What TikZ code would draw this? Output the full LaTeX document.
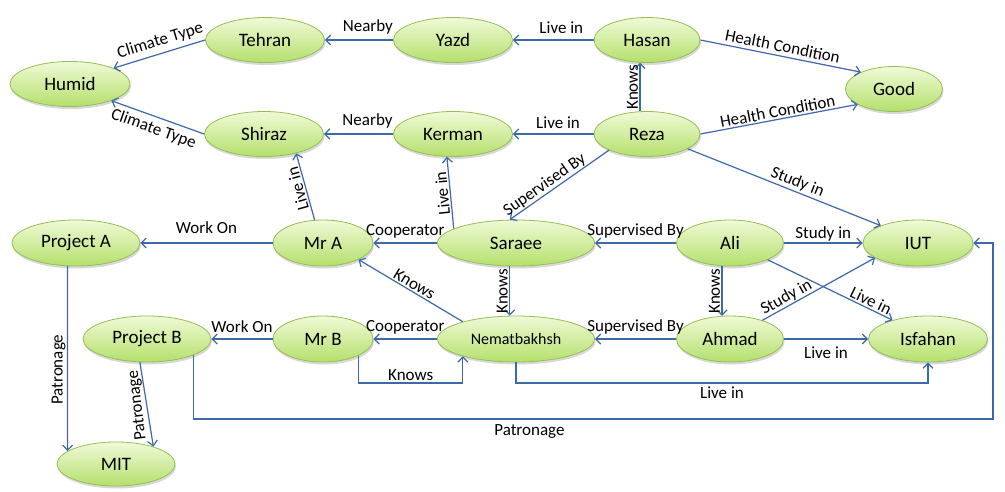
\documentclass[tikz,border=0pt]{standalone}
\usepackage{fontspec}
\setmainfont{Carlito}
\usetikzlibrary{shapes.geometric,arrows.meta,shadows,calc}
\definecolor{edgeblue}{RGB}{62,104,172}
\definecolor{ntop}{RGB}{240,250,215}
\definecolor{nbot}{RGB}{180,224,108}
\definecolor{nborder}{RGB}{150,190,85}
\begin{document}
\begin{tikzpicture}[x=1pt,y=-1pt,
  ent/.style={ellipse, draw=nborder, line width=0.8pt, top color=ntop, bottom color=nbot,
    inner sep=0pt, minimum height=45pt, font=\fontsize{19}{22}\selectfont,
    drop shadow={opacity=0.3, shadow xshift=1pt, shadow yshift=-2.5pt}},
  rel/.style={draw=edgeblue, line width=1.2pt, -{Straight Barb[length=5pt,width=10pt]}},
  lab/.style={font=\fontsize{17}{20}\selectfont, inner sep=1.5pt}]
\useasboundingbox (0,0) rectangle (1005,492);
\fill[white] (0,0) rectangle (1005,492);

% nodes
\node[ent, minimum width=120pt] (humid) at (70,84) {Humid};
\node[ent, minimum width=119pt] (tehran) at (265,40) {Tehran};
\node[ent, minimum width=119pt] (shiraz) at (264,134) {Shiraz};
\node[ent, minimum width=119pt] (yazd) at (453,40) {Yazd};
\node[ent, minimum width=119pt] (kerman) at (453,134) {Kerman};
\node[ent, minimum width=106pt] (hasan) at (647,40) {Hasan};
\node[ent, minimum width=106pt] (reza) at (647,134) {Reza};
\node[ent, minimum width=97pt] (good) at (894,89) {Good};
\node[ent, minimum width=128pt, minimum height=46pt] (proja) at (76,243) {Project A};
\node[ent, minimum width=100pt, minimum height=46pt] (mra) at (323,243) {Mr A};
\node[ent, minimum width=157pt, minimum height=46pt] (saraee) at (516,243) {Saraee};
\node[ent, minimum width=107pt, minimum height=46pt] (ali) at (730,243) {Ali};
\node[ent, minimum width=110pt, minimum height=46pt] (iut) at (918,243) {IUT};
\node[ent, minimum width=128pt, minimum height=46pt] (projb) at (147,339) {Project B};
\node[ent, minimum width=100pt, minimum height=46pt] (mrb) at (323,339) {Mr B};
\node[ent, minimum width=157pt, minimum height=46pt, font=\fontsize{16}{19}\selectfont] (nemat) at (516,339) {Nematbakhsh};
\node[ent, minimum width=107pt, minimum height=46pt] (ahmad) at (730,339) {Ahmad};
\node[ent, minimum width=119pt, minimum height=46pt] (isfahan) at (928,339) {Isfahan};
\node[ent, minimum width=118pt, minimum height=44pt] (mit) at (116,464) {MIT};

\coordinate (kb) at (0,383);
\coordinate (patY) at (0,419);
\coordinate (patX) at (993,0);

% edges
\draw[rel] (tehran.west) -- node[lab,sloped,above=3pt,pos=0.45]{Climate Type} (humid.20);
\draw[rel] (shiraz.west) -- node[lab,sloped,below=3pt]{Climate Type} (humid.-22);
\draw[rel] (yazd.west) -- node[lab,above=4pt,pos=0.37]{Nearby} (tehran.east);
\draw[rel] (kerman.west) -- node[lab,above=4pt,pos=0.37]{Nearby} (shiraz.east);
\draw[rel] (hasan.west) -- node[lab,above=4pt,pos=0.4]{Live in} (yazd.east);
\draw[rel] (reza.west) -- node[lab,above=3pt,pos=0.44]{Live in} (kerman.east);
\draw[rel] (hasan.east) -- node[lab,sloped,above=2pt]{Health Condition} (good.153);
\draw[rel] (reza.east) -- node[lab,sloped,above]{Health Condition} (good.203);
\draw[rel] (reza.107) -- node[lab,rotate=90,anchor=south]{Knows} (hasan.253);
\draw[rel] (reza.-20) -- node[lab,sloped,above,pos=0.55]{Study in} (iut.155);
\draw[rel] (reza.203) -- node[lab,sloped,above=-1pt,pos=0.6]{Supervised By} (saraee.105);
\draw[rel] (ali.west) -- node[lab,above=3pt]{Supervised By} (saraee.east);
\draw[rel] (ali.east) -- node[lab,above]{Study in} (iut.west);
\draw[rel] (saraee.west) -- node[lab,above=3pt]{Cooperator} (mra.east);
\draw[rel] (mra.west) -- node[lab,above=7pt]{Work On} (proja.east);
\draw[rel] (mra.110) -- node[lab,sloped,allow upside down,above]{Live in} (shiraz.-31);
\draw[rel] (saraee.167) -- node[lab,sloped,allow upside down,above]{Live in} (kerman.255);
\draw[rel] (saraee.255) -- node[lab,rotate=90,anchor=south]{Knows} (nemat.105);
\draw[rel] (nemat.162) -- node[lab,sloped,above]{Knows} (mra.-25);
\draw[rel] (nemat.west) -- node[lab,above=3pt]{Cooperator} (mrb.east);
\draw[rel] (mrb.west) -- node[lab,above=4pt]{Work On} (projb.east);
\draw[rel] (mrb.-25) -- (mrb.-25 |- kb) -- node[lab,above]{Knows} (nemat.198 |- kb) -- (nemat.198);
\draw[rel] (ahmad.west) -- node[lab,above=3pt]{Supervised By} (nemat.east);
\draw[rel] (ali.251) -- node[lab,rotate=90,anchor=south]{Knows} (ahmad.109);
\draw[rel] (ahmad.30) -- node[lab,sloped,above=-1pt,pos=0.25]{Study in} (iut.199);
\draw[rel] (ali.-24) -- node[lab,sloped,above,pos=0.8]{Live in} (isfahan.152);
\draw[rel] (ahmad.east) -- node[lab,below=6pt]{Live in} (isfahan.west);
\draw[rel] (nemat.south) -- (nemat.south |- kb) -- node[lab,below=2pt]{Live in} (isfahan.south |- kb) -- (isfahan.south);
\draw[rel] (projb.-19) -- (projb.-19 |- patY) -- node[lab,below=3pt,pos=0.42]{Patronage} (patX |- patY) -- (patX |- iut.east) -- (iut.east);
\draw[rel] (proja.250) -- node[lab,rotate=90,anchor=south,pos=0.56]{Patronage} (mit.165);
\draw[rel] (projb.253) -- node[lab,rotate=96.6,anchor=south]{Patronage} (mit.25);
\end{tikzpicture}
\end{document}
